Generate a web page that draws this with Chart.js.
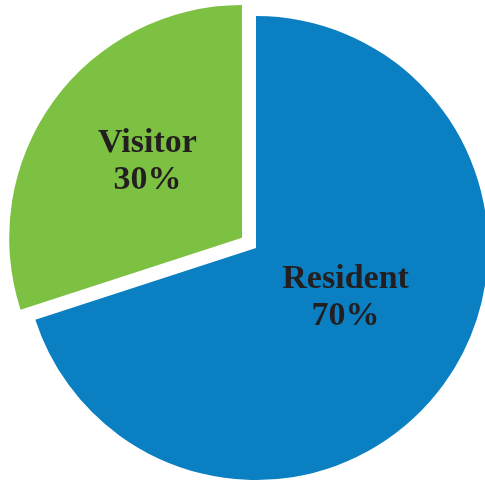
<!DOCTYPE html>
<html>
<head>
<meta charset="utf-8">
<style>
  html, body { margin: 0; padding: 0; background: #fff; }
  #wrap { width: 485px; height: 480px; }
</style>
<script src="https://cdn.jsdelivr.net/npm/chart.js@4/dist/chart.umd.min.js"></script>
</head>
<body>
<div id="wrap"><canvas id="pie" width="485" height="480"></canvas></div>
<script>
// --- data ---
const categories = ['Resident', 'Visitor'];
const shares = [70, 30];
const sliceColors = ['#0a7fc2', '#7cc142'];
// chart.js moves an arc by roughly offset/4, so 69 pulls the slice out ~18px
const sliceOffsets = [0, 69];

// labels in the middle of each slice: name on top, percent below
const sliceLabels = {
  id: 'sliceLabels',
  afterDatasetsDraw(chart, args, opts) {
    const ctx = chart.ctx;
    const meta = chart.getDatasetMeta(0);
    ctx.save();
    ctx.font = 'bold ' + opts.size + 'px "Liberation Serif", serif';
    ctx.fillStyle = opts.color;
    ctx.textAlign = 'center';
    ctx.textBaseline = 'middle';
    meta.data.forEach((arc, i) => {
      const p = arc.getProps(['x', 'y', 'startAngle', 'endAngle', 'outerRadius'], true);
      const mid = (p.startAngle + p.endAngle) / 2;
      const r = p.outerRadius * opts.distance[i];
      const nudge = opts.nudge[i];
      const x = p.x + Math.cos(mid) * r + nudge[0];
      const y = p.y + Math.sin(mid) * r + nudge[1];
      ctx.fillText(categories[i], x, y - opts.lineHeight / 2);
      ctx.fillText(shares[i] + '%', x, y + opts.lineHeight / 2);
    });
    ctx.restore();
  }
};

new Chart(document.getElementById('pie'), {
  type: 'pie',
  data: {
    labels: categories,
    datasets: [{
      data: shares,
      backgroundColor: sliceColors,
      borderWidth: 0,
      offset: sliceOffsets,
      hoverOffset: 0
    }]
  },
  options: {
    responsive: false,
    animation: false,
    events: [],
    devicePixelRatio: 1,
    radius: 232,
    layout: { padding: { left: 27, top: 16, right: 0, bottom: 0 } },
    plugins: {
      legend: { display: false },
      tooltip: { enabled: false },
      sliceLabels: {
        size: 34,
        lineHeight: 37,
        color: '#231f20',
        distance: [0.44, 0.6],
        nudge: [[7, -10], [4, -4]]
      }
    }
  },
  plugins: [sliceLabels]
});
</script>
</body>
</html>
